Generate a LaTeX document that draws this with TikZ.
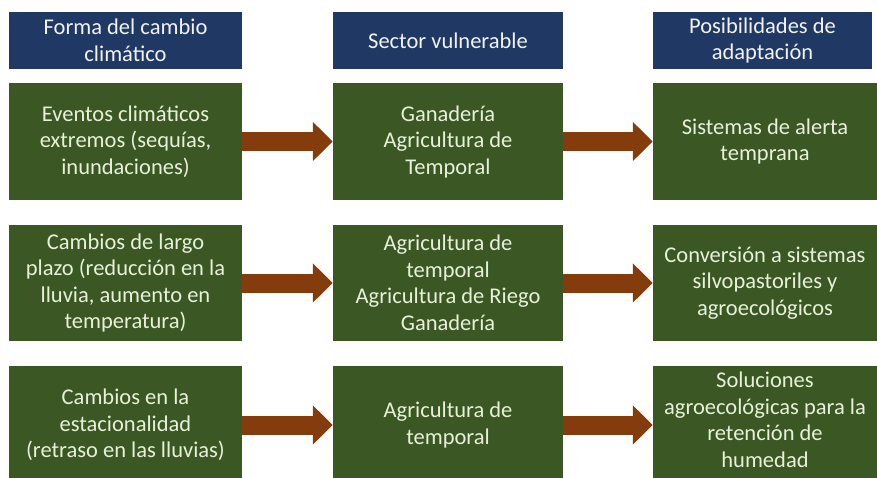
\documentclass[tikz,border=0pt]{standalone}
\usepackage{fontspec}
\setmainfont{Carlito}
\usetikzlibrary{arrows.meta}
\definecolor{hdrblue}{HTML}{1F3864}
\definecolor{boxgreen}{HTML}{3A5724}
\definecolor{arrbrown}{HTML}{843C0C}
\definecolor{hdrtext}{HTML}{F2F2F2}
\definecolor{boxtext}{HTML}{E9F0DA}
\begin{document}
\begin{tikzpicture}[x=1pt,y=-1pt,
  basefont/.style={font=\fontsize{22.5}{26.5}\selectfont, align=center, inner sep=0pt},
  hdr/.style={basefont, fill=hdrblue, text=hdrtext, minimum height=57pt},
  gbox/.style={basefont, fill=boxgreen, text=boxtext},
  gtext/.style={basefont, text=boxtext},
  arr/.style={draw=arrbrown, line width=19pt, -{Triangle[length=20pt,width=38pt,fill=arrbrown]}}
]
\useasboundingbox (0,0) rectangle (877,477);
\fill[white] (0,0) rectangle (877,477);
\clip (0,0) rectangle (877,477);
% headers
\node[hdr, minimum width=233pt] (h1) at (125.5,40.5) {Forma del cambio\\climático};
\node[hdr, minimum width=230pt] (h2) at (448,40.5) {Sector vulnerable};
\node[hdr, minimum width=219pt] (h3) at (762.5,40.5) {Posibilidades de\\adaptación};
% row 1
\node[gbox, minimum width=233pt, minimum height=117pt] (a1) at (125.5,141.5) {Eventos climáticos\\extremos (sequías,\\inundaciones)};
\node[gbox, minimum width=230pt, minimum height=117pt] (b1) at (448,141.5) {Ganadería\\Agricultura de\\Temporal};
\node[gbox, minimum width=224pt, minimum height=117pt] (c1) at (765,141.5) {Sistemas de alerta\\temprana};
% row 2
\node[gbox, minimum width=233pt, minimum height=116pt] (a2) at (125.5,283) {Cambios de largo\\plazo (reducción en la\\lluvia, aumento en\\temperatura)};
\node[gbox, minimum width=230pt, minimum height=116pt] (b2) at (448,283) {Agricultura de\\temporal\\Agricultura de Riego\\Ganadería};
\node[gbox, minimum width=224pt, minimum height=116pt] (c2) at (765,283) {Conversión a sistemas\\silvopastoriles y\\agroecológicos};
% row 3
\node[gbox, minimum width=233pt, minimum height=118pt] (a3) at (125.5,425) {Cambios en la\\estacionalidad\\(retraso en las lluvias)};
\node[gbox, minimum width=230pt, minimum height=118pt] (b3) at (448,425) {Agricultura de\\temporal};
\node[gbox, minimum width=224pt, minimum height=118pt] (c3) at (765,425) {};
\node[gtext] (c3t) at (765,420) {Soluciones\\agroecológicas para la\\retención de\\humedad};
% arrows
\draw[arr] (a1.east) -- (b1.west);
\draw[arr] (b1.east) -- (c1.west);
\draw[arr] (a2.east) -- (b2.west);
\draw[arr] (b2.east) -- (c2.west);
\draw[arr] (a3.east) -- (b3.west);
\draw[arr] (b3.east) -- (c3.west);
\end{tikzpicture}
\end{document}
